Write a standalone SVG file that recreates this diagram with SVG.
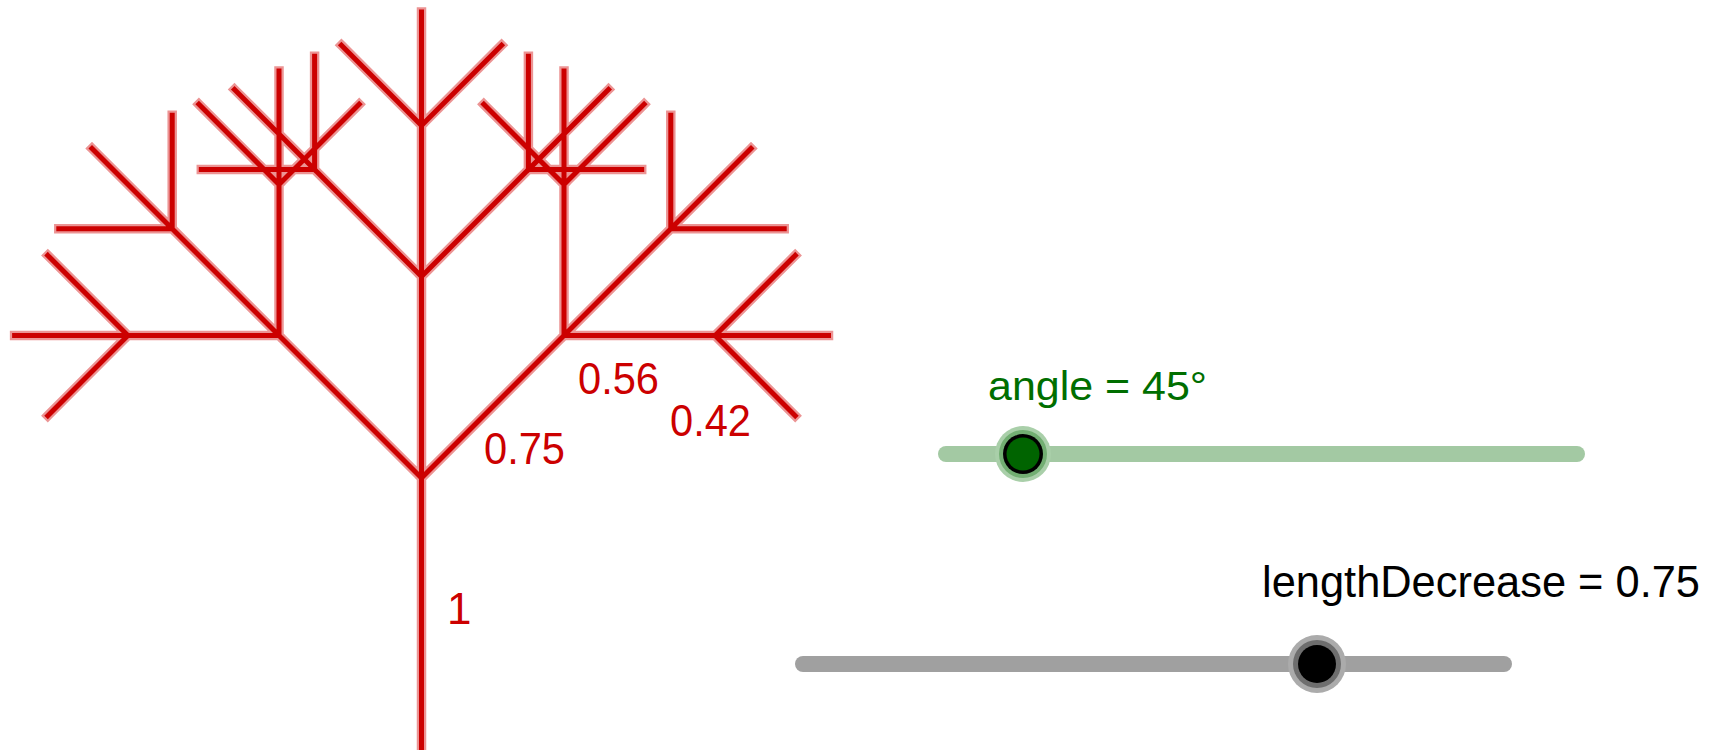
<svg xmlns="http://www.w3.org/2000/svg" xmlns:xlink="http://www.w3.org/1999/xlink" width="1712" height="750" viewBox="0 0 1712 750">
<style>
.halo{stroke:#ec9494;stroke-width:9.5;fill:none;stroke-linecap:square}
.core{stroke:#cc0000;stroke-width:5;fill:none;stroke-linecap:square}
.lbl{font-family:"Liberation Sans",Arial,sans-serif;fill:#cc0000;font-size:44px}
.slabel{font-family:"Liberation Sans",Arial,sans-serif}
.track{fill:none;stroke-linecap:round;stroke-width:16}
</style>
<defs>
<path id="branches" d="M421.5 752 L421.5 478
M421.5 478 L279 335.5 M421.5 478 L421.5 276.5 M421.5 478 L564 335.5
M279 335.5 L127.9 335.5 M279 335.5 L172.2 228.7 M279 335.5 L279 184.4
M421.5 276.5 L314.6 169.6 M421.5 276.5 L421.5 125.4 M421.5 276.5 L528.4 169.6
M564 335.5 L564 184.4 M564 335.5 L670.8 228.7 M564 335.5 L715.1 335.5
M127.9 335.5 L47.8 415.7 M127.9 335.5 L14.6 335.5 M127.9 335.5 L47.8 255.4
M172.2 228.7 L58.8 228.7 M172.2 228.7 L92 148.5 M172.2 228.7 L172.2 115.3
M279 184.4 L198.9 104.3 M279 184.4 L279 71.1 M279 184.4 L359.2 104.3
M314.6 169.6 L201.3 169.6 M314.6 169.6 L234.5 89.5 M314.6 169.6 L314.6 56.3
M421.5 125.4 L341.4 45.2 M421.5 125.4 L421.5 12 M421.5 125.4 L501.6 45.2
M528.4 169.6 L528.4 56.3 M528.4 169.6 L608.5 89.5 M528.4 169.6 L641.7 169.6
M564 184.4 L483.8 104.3 M564 184.4 L564 71.1 M564 184.4 L644.1 104.3
M670.8 228.7 L670.8 115.3 M670.8 228.7 L751 148.5 M670.8 228.7 L784.2 228.7
M715.1 335.5 L795.2 255.4 M715.1 335.5 L828.5 335.5 M715.1 335.5 L795.2 415.7"/>
</defs>
<rect width="1712" height="750" fill="#ffffff"/>
<g id="tree">
<use xlink:href="#branches" href="#branches" class="halo"/>
<use xlink:href="#branches" href="#branches" class="core"/>
</g>
<g id="labels">
<text class="lbl" x="447" y="624">1</text>
<text class="lbl" x="484" y="464" textLength="81" lengthAdjust="spacingAndGlyphs">0.75</text>
<text class="lbl" x="578" y="394" textLength="81" lengthAdjust="spacingAndGlyphs">0.56</text>
<text class="lbl" x="670" y="436" textLength="81" lengthAdjust="spacingAndGlyphs">0.42</text>
</g>
<g id="slider-angle">
<path class="track" d="M946 454 L1577 454" stroke="#a3c9a3"/>
<circle cx="1023" cy="454" r="28" fill="#a9cfa9"/>
<circle cx="1023" cy="454" r="24" fill="#72ae72"/>
<circle cx="1023" cy="454" r="20" fill="#000000"/>
<circle cx="1023" cy="454" r="16.5" fill="#006400"/>
<text class="slabel" x="988" y="400" font-size="41" fill="#006e00" textLength="219" lengthAdjust="spacingAndGlyphs">angle = 45°</text>
</g>
<g id="slider-length">
<path class="track" d="M803 664 L1504 664" stroke="#a0a0a0"/>
<circle cx="1317" cy="664" r="29" fill="#ababab"/>
<circle cx="1317" cy="664" r="24" fill="#6e6e6e"/>
<circle cx="1317" cy="664" r="19" fill="#000000"/>
<text class="slabel" x="1262" y="597" font-size="44" fill="#000000" textLength="438" lengthAdjust="spacingAndGlyphs">lengthDecrease = 0.75</text>
</g>
</svg>
